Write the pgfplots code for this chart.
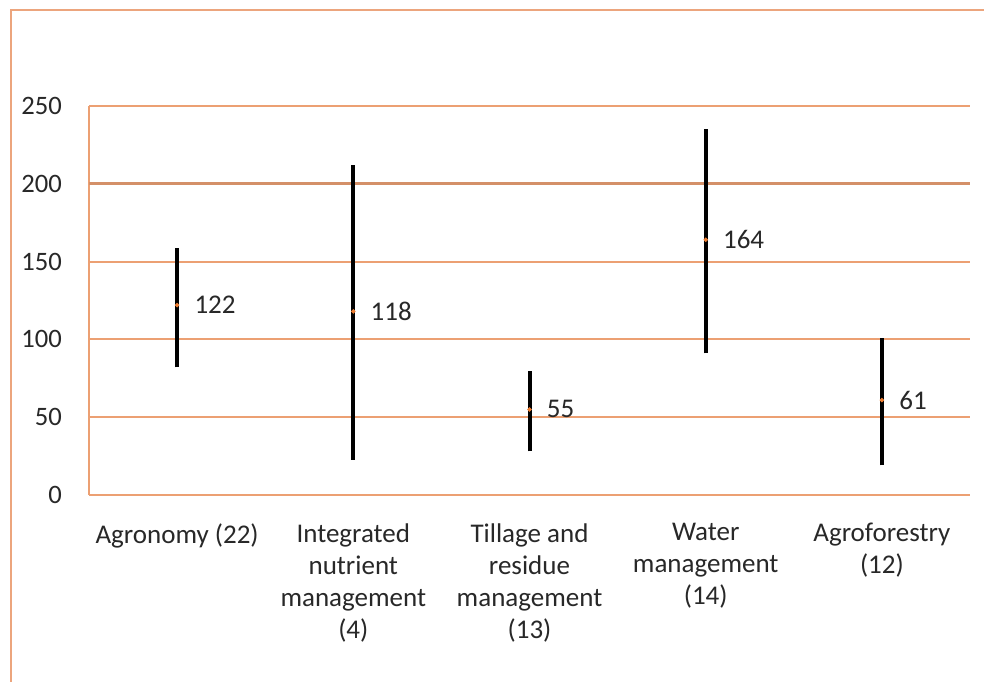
\documentclass[border=0pt]{standalone}
\usepackage{pgfplots}
\pgfplotsset{compat=1.18}
\usepackage{fontspec}
\setmainfont{Carlito}
\definecolor{gridor}{RGB}{236,160,115}
\definecolor{frameor}{RGB}{236,165,125}
\definecolor{dotor}{RGB}{237,125,49}
\definecolor{txt}{RGB}{40,40,40}
\begin{document}
\begin{tikzpicture}
\useasboundingbox (0,0) rectangle (492pt,340.5pt);
\fill[white] (0,0) rectangle (492pt,340.5pt);
\draw[frameor, line width=1.2pt] (5.5pt,-1pt) -- (5.5pt,335.5pt) -- (493pt,335.5pt);
\begin{axis}[
  at={(44.5pt,93pt)}, anchor=south west,
  scale only axis, width=440.5pt, height=194.5pt,
  xmin=-0.5, xmax=4.5, ymin=0, ymax=250,
  axis x line=none,
  axis y line*=left,
  y axis line style={gridor, line width=1pt},
  ytick={0,50,...,250},
  ymajorgrids, grid style={gridor, line width=1pt},
  extra y ticks={200}, extra y tick labels={},
  extra y tick style={grid style={gridor!90!black, line width=1.5pt}},
  major tick length=0pt,
  /pgf/number format/assume math mode=true,
  yticklabel style={font=\fontsize{13.3}{16}\selectfont, text=txt, xshift=-10pt},
  clip=false,
]
\addplot[black, line width=2pt] coordinates {(0,82) (0,159)};
\addplot[black, line width=2pt] coordinates {(1,22.5) (1,212)};
\addplot[black, line width=2pt] coordinates {(2,28) (2,80)};
\addplot[black, line width=2pt] coordinates {(3,91) (3,235)};
\addplot[black, line width=2pt] coordinates {(4,19) (4,101)};
\addplot[only marks, mark=*, mark size=0.9pt, color=dotor,
  nodes near coords, point meta=explicit symbolic,
  nodes near coords style={anchor=west, inner sep=0pt, xshift=8.5pt, yshift=0pt,
    text=txt, font=\fontsize{13.5}{16}\selectfont}]
  table[meta=lab] {
x y lab
0 122 122
1 118 118
2 55 55
3 164 164
4 61 61
};
\foreach \i/\t in {0/{Agronomy (22)},1/{Integrated\\nutrient\\management\\(4)},2/{Tillage and\\residue\\management\\(13)},3/{Water\\management\\(14)},4/{Agroforestry\\(12)}}{
  \edef\temp{\noexpand\node[anchor=north, align=center, text=txt, font=\noexpand\fontsize{13.5}{16}\noexpand\selectfont, inner sep=0pt] at (axis cs:\i,0) [yshift=-14pt] {\unexpanded\expandafter{\t}};}
  \temp
}
\end{axis}
\end{tikzpicture}
\end{document}
